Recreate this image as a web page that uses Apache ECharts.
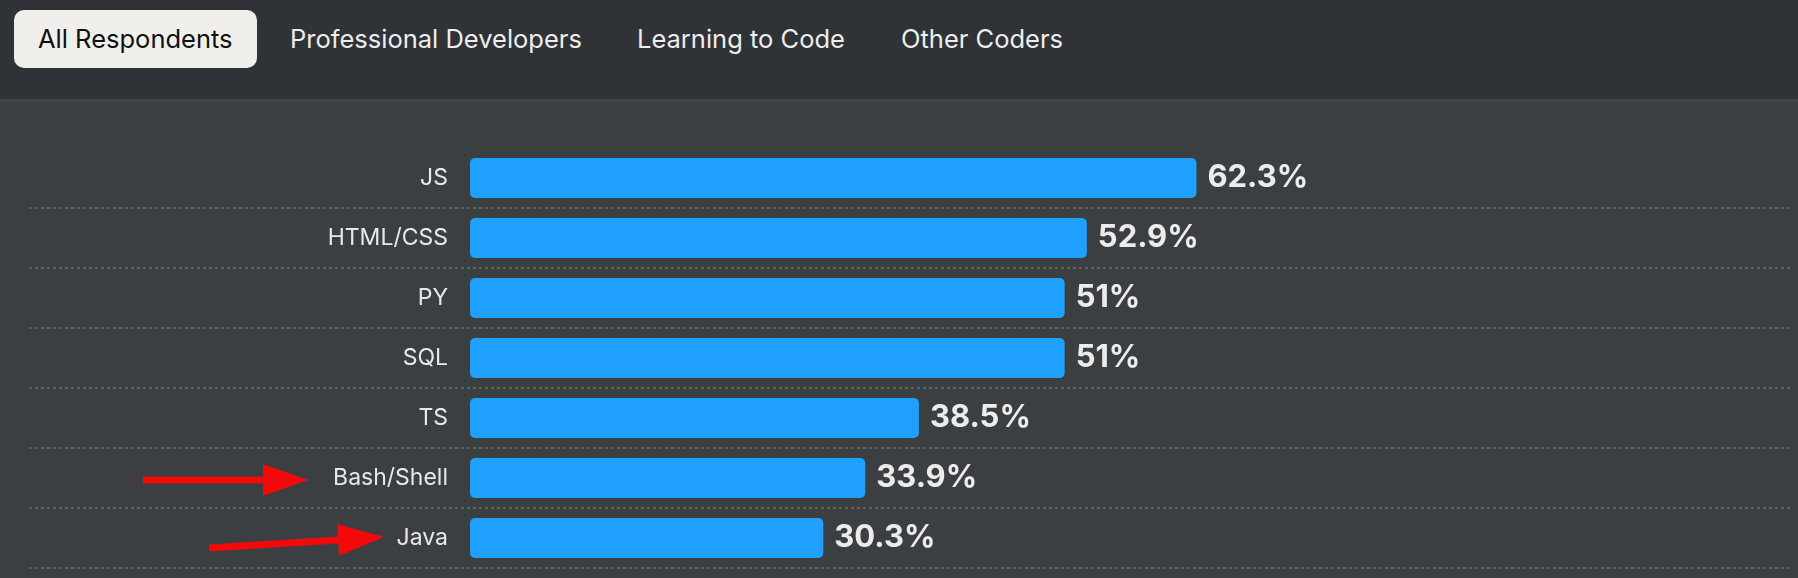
<!DOCTYPE html>
<html>
<head>
<meta charset="utf-8">
<script src="https://cdn.jsdelivr.net/npm/echarts@6/dist/echarts.min.js"></script>
<style>
  html, body { margin:0; padding:0; width:1798px; height:578px; overflow:hidden; background:#3b3f42; font-family: Inter, "Noto Sans", sans-serif; }
  #header { position:absolute; left:0; top:0; width:1798px; height:99px; background:#2f3236; border-bottom:3px solid #42464a; }
  .tab { position:absolute; top:10px; height:58px; line-height:58px; font-size:25.5px; color:#ededed; white-space:nowrap; }
  .tab.active { background:#f1efec; color:#111; border-radius:10px; padding:0 24px; }
  #chart { position:absolute; left:0; top:0; width:1798px; height:578px; }
</style>
</head>
<body>
<div id="header"></div>
<div id="chart"></div>
<script>
// ---- data ----
const tabs = ['All Respondents', 'Professional Developers', 'Learning to Code', 'Other Coders'];
const categories = ['JS', 'HTML/CSS', 'PY', 'SQL', 'TS', 'Bash/Shell', 'Java'];
const values = [62.3, 52.9, 51, 51, 38.5, 33.9, 30.3];
const highlighted = ['Bash/Shell', 'Java'];

// ---- header tabs ----
const tabLeft = [14, 290, 637, 901];
const header = document.getElementById('header');
tabs.forEach((t, i) => {
  const d = document.createElement('div');
  d.className = 'tab' + (i === 0 ? ' active' : '');
  d.style.left = tabLeft[i] + 'px';
  d.textContent = t;
  header.appendChild(d);
});

// ---- chart ----
const chart = echarts.init(document.getElementById('chart'), null, { renderer: 'canvas' });
const option = {
  animation: false,
  backgroundColor: 'transparent',
  grid: [
    { left: 470, top: 148, width: 1166, height: 420 },
    { left: 29, top: 148, right: 8, height: 420 }
  ],
  xAxis: [
    { gridIndex: 0, type: 'value', min: 0, max: 100, show: false },
    { gridIndex: 1, type: 'value', min: 0, max: 100, show: false }
  ],
  yAxis: [
    {
      gridIndex: 0, type: 'category', data: categories, inverse: true,
      axisLine: { show: false }, axisTick: { show: false }, splitLine: { show: false },
      axisLabel: { color: '#e8e8e8', fontSize: 23, fontFamily: 'Inter', margin: 22 }
    },
    {
      gridIndex: 1, type: 'category', data: categories, inverse: true,
      axisLine: { show: false }, axisTick: { show: false }, axisLabel: { show: false },
      splitLine: { show: true, showMinLine: false, showMaxLine: true,
        lineStyle: { color: '#6a6e72', type: [3, 3], width: 1.5 } }
    }
  ],
  series: [{
    type: 'bar',
    xAxisIndex: 0, yAxisIndex: 0,
    data: values,
    barWidth: 40,
    itemStyle: { color: '#1fa0ff', borderRadius: 5 },
    label: {
      show: true, position: 'right', distance: 11,
      color: '#ececec', fontWeight: 'bold', fontSize: 31, fontFamily: 'Inter',
      formatter: p => p.value + '%'
    }
  }]
};
chart.setOption(option);

// ---- red arrow annotations pointing at highlighted labels ----
function arrowPoints(x1, y1, x2, y2, headLen, headHalf, shaftHalf) {
  const dx = x2 - x1, dy = y2 - y1, L = Math.hypot(dx, dy);
  const ux = dx / L, uy = dy / L, nx = -uy, ny = ux;
  const bx = x2 - ux * headLen, by = y2 - uy * headLen;
  return [
    [x1 + nx * shaftHalf, y1 + ny * shaftHalf],
    [bx + nx * shaftHalf, by + ny * shaftHalf],
    [bx + nx * headHalf, by + ny * headHalf],
    [x2, y2],
    [bx - nx * headHalf, by - ny * headHalf],
    [bx - nx * shaftHalf, by - ny * shaftHalf],
    [x1 - nx * shaftHalf, y1 - ny * shaftHalf]
  ];
}
const yBash = chart.convertToPixel({ yAxisIndex: 0 }, highlighted[0]);
const yJava = chart.convertToPixel({ yAxisIndex: 0 }, highlighted[1]);
chart.setOption({
  graphic: [
    { type: 'polygon', shape: { points: arrowPoints(143, yBash + 2, 308, yBash + 2, 45, 16, 3.5) }, style: { fill: '#f20a0a' } },
    { type: 'polygon', shape: { points: arrowPoints(209, yJava + 10, 384, yJava - 1, 46, 16, 3.5) }, style: { fill: '#f20a0a' } }
  ]
});
</script>
</body>
</html>
